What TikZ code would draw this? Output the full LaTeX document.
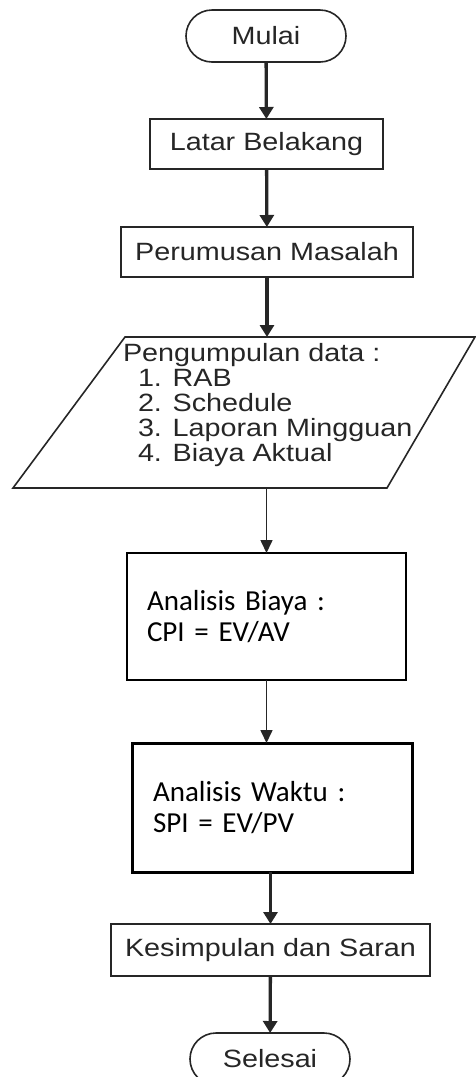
\documentclass[tikz,border=0pt]{standalone}
\usepackage{fontspec}
\setmainfont{Liberation Sans}[FakeStretch=1.15]
\newfontfamily\calibri{Carlito}
\usepackage{tikz}
\usetikzlibrary{arrows.meta,positioning}
\definecolor{inkgray}{HTML}{262626}

\begin{document}
\begin{tikzpicture}[x=1pt,y=1pt,>={Triangle[length=12pt,width=14pt]},
    every node/.style={outer sep=0pt},
    term/.style={draw=inkgray,line width=1.6pt,rounded corners=26pt,
      minimum width=160pt,minimum height=52pt,text=inkgray,
      font=\fontsize{25}{25}\selectfont},
    proc/.style={draw=inkgray,line width=1.8pt,minimum height=50pt,
      text=inkgray,font=\fontsize{25}{25}\selectfont},
    calc/.style={draw=black,align=left,inner xsep=20pt,
      font=\calibri\fontsize{29}{31.5}\selectfont},
    flow/.style={->,draw=inkgray,line width=3.3pt},
    thinflow/.style={-{Triangle[length=13pt,width=12pt]},draw=black!85,
      line width=1.6pt}]
  \useasboundingbox (0,0) rectangle (475,-1077);
  \node[term] (mulai) at (266,-36) {Mulai};
  \node[proc,minimum width=233pt,below=57pt of mulai,xshift=0.5pt] (latar)
    {Latar Belakang};
  \node[proc,minimum width=292pt,below=58pt of latar,xshift=0.5pt] (rumusan)
    {Perumusan Masalah};
  \node[minimum width=462pt,minimum height=151pt,inner sep=0pt,
    below=60pt of rumusan,xshift=-23pt] (data) {};
  \draw[inkgray,line width=1.6pt] ([xshift=112pt]data.north west)
    -- (data.north east) -- ([xshift=-88pt]data.south east)
    -- (data.south west) -- cycle;
  \node[align=left,anchor=north west,inner sep=0pt,text=inkgray,
    font=\fontsize{25}{25}\selectfont] (datalist)
    at ([xshift=110pt,yshift=-6.5pt]data.north west)
    {Pengumpulan data :\\
     \hspace*{15pt}1. RAB\\
     \hspace*{15pt}2. Schedule\\
     \hspace*{15pt}3. Laporan Mingguan\\
     \hspace*{15pt}4. Biaya Aktual};
  \node[calc,text width=239pt,minimum height=127pt,line width=2.2pt,
    below=65pt of data,xshift=22.5pt] (biaya)
    {Analisis Biaya :\\CPI = EV/AV};
  \node[calc,text width=238pt,inner xsep=21pt,minimum height=129pt,
    line width=3pt,below=63pt of biaya,xshift=5.5pt] (waktu)
    {Analisis Waktu :\\SPI = EV/PV};
  \node[proc,minimum width=319pt,minimum height=52pt,
    below=52pt of waktu,xshift=-1.5pt] (simpul) {Kesimpulan dan Saran};
  \node[term,below=57pt of simpul,xshift=-0.5pt] (selesai) {Selesai};
  % connectors
  \draw[flow] (mulai) -- (latar);
  \draw[flow] (latar) -- (rumusan);
  \draw[flow] (rumusan.south) -- (rumusan.south |- data.north);
  \draw[thinflow] (data.south -| biaya.north) -- (biaya.north);
  \draw[thinflow] (biaya.south) -- (biaya.south |- waktu.north);
  \draw[flow] (simpul.north |- waktu.south) -- (simpul.north);
  \draw[flow] (simpul) -- (selesai);
\end{tikzpicture}
\end{document}
